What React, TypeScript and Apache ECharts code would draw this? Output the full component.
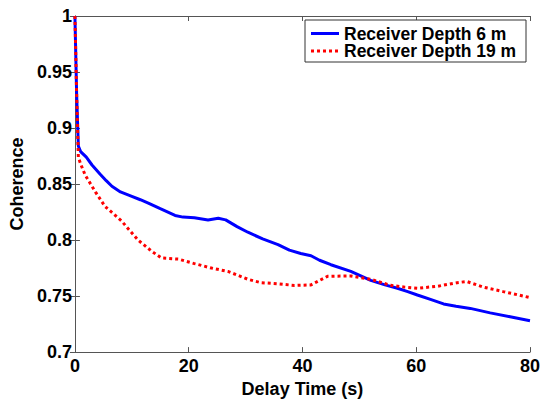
import React, { useEffect, useRef } from "react";
import * as echarts from "echarts";

const seriesNames = ["Receiver Depth 6 m", "Receiver Depth 19 m"];
const seriesColors = ["#0000ff", "#ff0000"];

const depth6: [number, number][] = [
  [0, 1], [0.3, 0.93], [0.6, 0.884], [1, 0.879], [2, 0.874], [3, 0.867], [4.4, 0.859],
  [5.5, 0.853], [6.5, 0.848], [8, 0.843], [10, 0.839], [11.5, 0.836], [12.9, 0.833],
  [15, 0.828], [17.6, 0.822], [19, 0.8205], [21, 0.82], [23.4, 0.818], [25.2, 0.8195],
  [26.5, 0.818], [28.5, 0.812], [30.4, 0.807], [33, 0.801], [35.7, 0.796], [37.7, 0.791],
  [39.7, 0.788], [41.5, 0.786], [43, 0.782], [45, 0.778], [48.5, 0.772], [52, 0.764],
  [54.5, 0.76], [56.7, 0.757], [58.5, 0.754], [60.2, 0.751], [62.5, 0.747], [64.8, 0.743],
  [67, 0.741], [69.5, 0.739], [73, 0.735], [76.5, 0.7315], [80, 0.728],
];

const depth19: [number, number][] = [
  [0, 1], [0.3, 0.93], [0.6, 0.874], [1, 0.868], [1.8, 0.858], [3.6, 0.843], [5.3, 0.83],
  [8.2, 0.817], [11.1, 0.8], [13.5, 0.79], [15.2, 0.784], [18.2, 0.783], [21, 0.779],
  [24, 0.775], [26.9, 0.772], [30.4, 0.765], [32.7, 0.762], [35.5, 0.761], [38.6, 0.7595],
  [41.5, 0.76], [43, 0.764], [44.4, 0.7676], [48.5, 0.768], [52, 0.765], [55.5, 0.7596],
  [58, 0.758], [60.2, 0.757], [63.7, 0.7587], [67.2, 0.762], [68.9, 0.763], [71.8, 0.758],
  [75.3, 0.754], [78, 0.751], [80, 0.7486],
];

const xTicks = { min: 0, max: 80, interval: 20 };
const yTicks = { min: 0.7, max: 1, interval: 0.05 };

const FONT = "Liberation Sans";
const AXIS_COLOR = "#555";
const DOTS = [3, 3];

export default function App() {
  const ref = useRef<HTMLDivElement>(null);
  useEffect(() => {
    if (!ref.current) return;
    document.body.style.margin = "0";
    const chart = echarts.init(ref.current, undefined, { renderer: "svg", width: 544, height: 403 });
    const axisCommon = {
      axisLine: { show: true, lineStyle: { color: AXIS_COLOR, width: 1 } },
      axisTick: { show: true, inside: true, length: 5, lineStyle: { color: AXIS_COLOR } },
      splitLine: { show: false },
    };
    const labelStyle = { fontFamily: FONT, fontWeight: "bold", fontSize: 18, color: "#000" };
    const legendItems = seriesNames.map((name, i) => {
      const y = 33.5 + i * 17.5;
      return [
        {
          type: "line",
          shape: { x1: 311, y1: y, x2: 339, y2: y },
          style: { stroke: seriesColors[i], lineWidth: 3, lineDash: i === 1 ? DOTS : null },
          z: 101,
        },
        {
          type: "text",
          x: 344,
          y: y,
          style: {
            text: name,
            fontFamily: FONT,
            fontWeight: "bold",
            fontSize: 17.5,
            lineHeight: 16,
            fill: "#000",
            verticalAlign: "middle",
            align: "left",
          },
          z: 101,
        },
      ];
    }).flat();
    chart.setOption({
      animation: false,
      backgroundColor: "#fff",
      textStyle: { fontFamily: FONT },
      grid: { left: 73, right: 14, top: 16, bottom: 41, containLabel: false },
      graphic: [
        {
          type: "rect",
          shape: { x: 305, y: 20, width: 221, height: 42 },
          style: { fill: "#fff", stroke: "#333", lineWidth: 1 },
          z: 100,
        },
        ...legendItems,
      ],
      xAxis: [
        {
          type: "value",
          position: "bottom",
          ...xTicks,
          ...axisCommon,
          name: "Delay Time (s)",
          nameLocation: "middle",
          nameGap: 23,
          nameTextStyle: labelStyle,
          axisLabel: { ...labelStyle, margin: 5 },
        },
        {
          type: "value",
          position: "top",
          ...xTicks,
          ...axisCommon,
          axisLabel: { show: false },
        },
      ],
      yAxis: [
        {
          type: "value",
          position: "left",
          ...yTicks,
          ...axisCommon,
          name: "Coherence",
          nameLocation: "middle",
          nameGap: 42,
          nameTextStyle: labelStyle,
          axisLabel: { ...labelStyle, margin: 3 },
        },
        {
          type: "value",
          position: "right",
          ...yTicks,
          ...axisCommon,
          axisLabel: { show: false },
        },
      ],
      series: [
        {
          name: seriesNames[0],
          type: "line",
          data: depth6,
          symbol: "none",
          lineStyle: { color: seriesColors[0], width: 3 },
          itemStyle: { color: seriesColors[0] },
        },
        {
          name: seriesNames[1],
          type: "line",
          data: depth19,
          symbol: "none",
          lineStyle: { color: seriesColors[1], width: 3, type: DOTS },
          itemStyle: { color: seriesColors[1] },
        },
      ],
    });
    return () => chart.dispose();
  }, []);
  return (
    <div
      ref={ref}
      style={{ width: 544, height: 403, position: "absolute", left: 0, top: 0 }}
    />
  );
}
